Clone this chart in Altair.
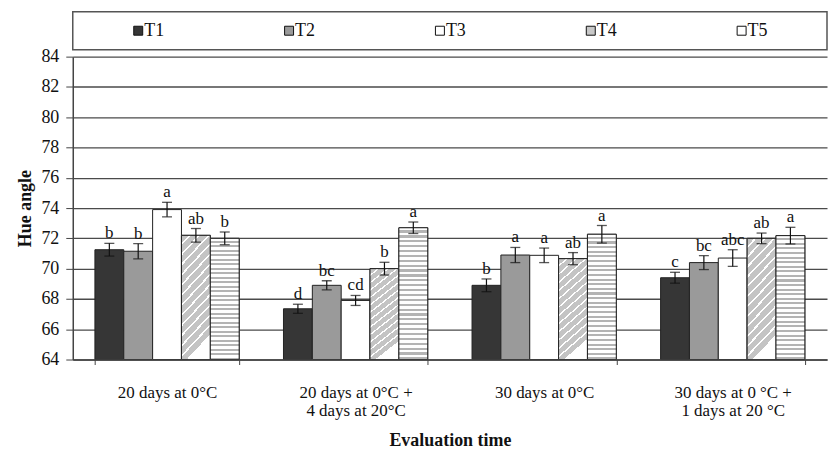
import altair as alt
import pandas as pd

FONT = "Liberation Serif"

categories = [
    "20 days at 0°C",
    "20 days at 0°C +|4 days at 20°C",
    "30 days at 0°C",
    "30 days at 0 °C +|1 days at 20 °C",
]
treatments = ["T1", "T2", "T3", "T4", "T5"]

mean_T1 = [71.25, 67.35, 68.9, 69.4]
mean_T2 = [71.15, 68.9, 70.9, 70.4]
mean_T3 = [73.9, 67.9, 70.88, 70.7]
mean_T4 = [72.2, 70.0, 70.66, 72.0]
mean_T5 = [72.0, 72.7, 72.27, 72.18]

err_T1 = [0.42, 0.3, 0.42, 0.36]
err_T2 = [0.5, 0.3, 0.5, 0.46]
err_T3 = [0.48, 0.33, 0.48, 0.55]
err_T4 = [0.45, 0.42, 0.4, 0.35]
err_T5 = [0.42, 0.38, 0.58, 0.55]

let_T1 = ["b", "d", "b", "c"]
let_T2 = ["b", "bc", "a", "bc"]
let_T3 = ["a", "cd", "a", "abc"]
let_T4 = ["ab", "b", "ab", "ab"]
let_T5 = ["b", "a", "a", "a"]

y_min, y_max = 64, 84
y_ticks = list(range(y_min, y_max + 1, 2))

means = dict(T1=mean_T1, T2=mean_T2, T3=mean_T3, T4=mean_T4, T5=mean_T5)
errs = dict(T1=err_T1, T2=err_T2, T3=err_T3, T4=err_T4, T5=err_T5)
lets = dict(T1=let_T1, T2=let_T2, T3=let_T3, T4=let_T4, T5=let_T5)

rows = []
for t in treatments:
    for i, c in enumerate(categories):
        m = means[t][i]
        e = errs[t][i]
        rows.append(dict(cat=c, trt=t, mean=m, base=y_min, lo=m - e, hi=m + e, letter=lets[t][i]))
df = pd.DataFrame(rows)

fill_colors = ["#363636", "#9a9a9a", "#ffffff", "#c8c8c8", "#ffffff"]

# stripe gradients (style only)
def stripes(n, c_a, c_b, frac_b):
    stops = []
    for k in range(n):
        a0 = k / n
        b0 = (k + 1 - frac_b) / n
        b1 = (k + 1) / n
        stops += [
            alt.GradientStop(offset=a0, color=c_a),
            alt.GradientStop(offset=b0, color=c_a),
            alt.GradientStop(offset=b0, color=c_b),
            alt.GradientStop(offset=b1, color=c_b),
        ]
    return stops

grad_T5 = alt.LinearGradient(gradient="linear", stops=stripes(27, "#ffffff", "#b4b4b4", 0.45),
                             x1=0, y1=0, x2=0, y2=1)
grad_T4 = alt.LinearGradient(gradient="linear", stops=stripes(13, "#c4c4c4", "#ffffff", 0.22),
                             x1=0, y1=0, x2=0.25, y2=1)

W = 757
H = 304
FS = 18

x = alt.X("cat:N", sort=categories,
          scale=alt.Scale(domain=categories, paddingInner=0.235, paddingOuter=0.1175),
          axis=alt.Axis(title="Evaluation time", labelAngle=0, labelExpr="split(datum.label, '|')",
                        tickBand="extent", tickSize=5, labelPadding=20, labelLineHeight=18,
                        labelFontSize=17, labelFont=FONT, labelColor="#111",
                        titleFont=FONT, titleFontSize=FS, titleFontWeight="bold", titleColor="#111",
                        titlePadding=13, grid=False, domainColor="#444", domainWidth=1.5,
                        tickColor="#444", labelLimit=300, zindex=1))
xoff = alt.XOffset("trt:N", sort=treatments,
                   scale=alt.Scale(domain=treatments, paddingInner=0, paddingOuter=0))
y_axis = alt.Axis(values=y_ticks, title="Hue angle", labelOverlap=False,
                  labelFont=FONT, labelFontSize=FS, labelColor="#111", labelPadding=7,
                  tickSize=7, tickColor="#444", domainColor="#444", domainWidth=1.5,
                  gridColor="#4a4a4a", gridWidth=1.3, titleFont=FONT, titleFontSize=FS,
                  titleFontWeight="bold", titleColor="#111", titlePadding=6)
y_scale = alt.Scale(domain=[y_min, y_max], nice=False, zero=False)

def Y(field):
    return alt.Y(field, scale=y_scale, axis=y_axis, title="Hue angle")

y2 = alt.Y2("base:Q")

base = alt.Chart(df)

bars = base.mark_bar(stroke="#222", strokeWidth=1).encode(
    x=x, xOffset=xoff, y=Y("mean:Q"), y2=y2,
    fill=alt.Fill("trt:N", scale=alt.Scale(domain=treatments, range=fill_colors), legend=None),
)
bars_T4 = base.transform_filter(alt.datum.trt == "T4").mark_bar(
    fill=grad_T4, stroke="#222", strokeWidth=1).encode(x=x, xOffset=xoff, y=Y("mean:Q"), y2=y2)
bars_T5 = base.transform_filter(alt.datum.trt == "T5").mark_bar(
    fill=grad_T5, stroke="#222", strokeWidth=1).encode(x=x, xOffset=xoff, y=Y("mean:Q"), y2=y2)

rule = base.mark_rule(color="#111", strokeWidth=1.2).encode(
    x=x, xOffset=xoff, y=Y("lo:Q"), y2="hi:Q")
cap_lo = base.mark_tick(color="#111", size=10, thickness=1.3).encode(
    x=x, xOffset=xoff, y=Y("lo:Q"))
cap_hi = base.mark_tick(color="#111", size=10, thickness=1.3).encode(
    x=x, xOffset=xoff, y=Y("hi:Q"))
txt = base.mark_text(font=FONT, fontSize=17, baseline="alphabetic", dy=-5, color="#111").encode(
    x=x, xOffset=xoff, y=Y("hi:Q"), text="letter:N")

main = alt.layer(bars, bars_T4, bars_T5, rule, cap_lo, cap_hi, txt).properties(
    width=W, height=H, view=alt.ViewBackground(strokeOpacity=0))

leg_df = pd.DataFrame({"trt": treatments})
lx = alt.X("trt:N", sort=treatments, scale=alt.Scale(type="point", padding=0.5), axis=None)
leg_sq = alt.Chart(leg_df).mark_square(size=81, stroke="#111", strokeWidth=1, opacity=1,
                                       xOffset=-10).encode(
    x=lx, fill=alt.Fill("trt:N", scale=alt.Scale(domain=treatments, range=fill_colors), legend=None))
leg_txt = alt.Chart(leg_df).mark_text(font=FONT, fontSize=FS, align="left", dx=-4,
                                      color="#111").encode(x=lx, text="trt:N")
legend = alt.layer(leg_sq, leg_txt).properties(
    width=W, height=38, view=alt.ViewBackground(stroke="#555", strokeWidth=1.5))

chart = alt.vconcat(legend, main, spacing=7, bounds="flush").properties(
    padding={"left": 9, "top": 2, "right": 0, "bottom": 0}
).configure(font=FONT)

chart.save("out.html", embed_options={"renderer": "svg", "actions": False})
